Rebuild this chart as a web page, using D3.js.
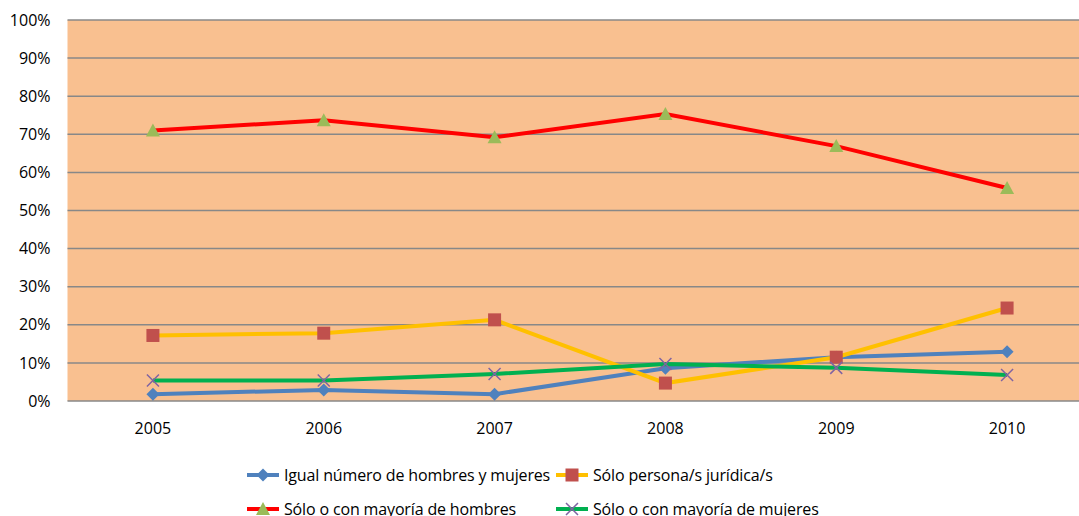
<!DOCTYPE html>
<meta charset="utf-8">
<script src="https://d3js.org/d3.v7.min.js"></script>
<style>
  body { margin: 0; background: #fff; }
  text { font-family: "Open Sans", Lato, sans-serif; fill: #000; }
</style>
<body>
<div id="chart"></div>
<script>

var years = ["2005", "2006", "2007", "2008", "2009", "2010"];
var yTicks = [0, 0.1, 0.2, 0.3, 0.4, 0.5, 0.6, 0.7, 0.8, 0.9, 1];

var igual = [0.018, 0.029, 0.018, 0.086, 0.115, 0.129];
var juridica = [0.172, 0.178, 0.213, 0.047, 0.115, 0.244];
var hombres = [0.710, 0.737, 0.692, 0.753, 0.669, 0.559];
var mujeres = [0.054, 0.054, 0.071, 0.097, 0.087, 0.068];

var seriesNames = [
  "Igual número de hombres y mujeres",
  "Sólo persona/s jurídica/s",
  "Sólo o con mayoría de hombres",
  "Sólo o con mayoría de mujeres"
];

var series = [
  { name: seriesNames[0], values: igual, line: "#4f81bd", marker: "diamond", mcolor: "#4f81bd" },
  { name: seriesNames[1], values: juridica, line: "#ffc000", marker: "square", mcolor: "#c0504d" },
  { name: seriesNames[2], values: hombres, line: "#ff0000", marker: "triangle", mcolor: "#9bbb59" },
  { name: seriesNames[3], values: mujeres, line: "#00b050", marker: "cross", mcolor: "#8064a2" }
];

var width = 1079, height = 516;
var plot = { left: 67.5, right: 1092.5, top: 20, bottom: 401 };

var svg = d3.select("#chart").append("svg")
  .attr("width", width)
  .attr("height", height);

var x = d3.scaleBand()
  .domain(years)
  .range([plot.left, plot.right]);

var y = d3.scaleLinear()
  .domain([0, 1])
  .range([plot.bottom, plot.top]);

// plot background
svg.append("rect")
  .attr("x", plot.left)
  .attr("y", plot.top)
  .attr("width", plot.right - plot.left)
  .attr("height", plot.bottom - plot.top)
  .attr("fill", "#f9c090");

// gridlines
svg.append("g")
  .selectAll("line")
  .data(yTicks)
  .enter()
  .append("line")
  .attr("x1", plot.left)
  .attr("x2", plot.right)
  .attr("y1", function(d) { return y(d); })
  .attr("y2", function(d) { return y(d); })
  .attr("stroke", "#888888")
  .attr("stroke-width", 1.5);

// y axis labels
var yAxis = svg.append("g")
  .attr("transform", "translate(" + plot.left + ",0)")
  .call(d3.axisLeft(y).tickValues(yTicks).tickFormat(d3.format(".0%")).tickSize(0).tickPadding(17));
yAxis.select(".domain").remove();
yAxis.selectAll("text").style("font-size", "16px").attr("fill", "#000");

// x axis labels
var xAxis = svg.append("g")
  .attr("transform", "translate(0," + plot.bottom + ")")
  .call(d3.axisBottom(x).tickSize(0).tickPadding(22));
xAxis.select(".domain").remove();
xAxis.selectAll("text").style("font-size", "16px").attr("fill", "#000");

var cx = function(i) { return x(years[i]) + x.bandwidth() / 2; };

var lineGen = d3.line()
  .x(function(d, i) { return cx(i); })
  .y(function(d) { return y(d); });

function drawMarker(g, type, color, px, py) {
  if (type === "diamond") {
    g.append("path")
      .attr("d", "M" + px + "," + (py - 6.5) + "L" + (px + 6.5) + "," + py + "L" + px + "," + (py + 6.5) + "L" + (px - 6.5) + "," + py + "Z")
      .attr("fill", color);
  } else if (type === "square") {
    g.append("rect")
      .attr("x", px - 6.5).attr("y", py - 6.5)
      .attr("width", 13).attr("height", 13)
      .attr("fill", color);
  } else if (type === "triangle") {
    g.append("path")
      .attr("d", "M" + px + "," + (py - 7) + "L" + (px + 7) + "," + (py + 6) + "L" + (px - 7) + "," + (py + 6) + "Z")
      .attr("fill", color);
  } else {
    g.append("path")
      .attr("d", "M" + (px - 6) + "," + (py - 6) + "L" + (px + 6) + "," + (py + 6) + "M" + (px + 6) + "," + (py - 6) + "L" + (px - 6) + "," + (py + 6))
      .attr("stroke", color)
      .attr("stroke-width", 1.5)
      .attr("fill", "none");
  }
}

series.forEach(function(s) {
  var g = svg.append("g");
  g.append("path")
    .datum(s.values)
    .attr("d", lineGen)
    .attr("fill", "none")
    .attr("stroke", s.line)
    .attr("stroke-width", 4);
  s.values.forEach(function(v, i) {
    drawMarker(g, s.marker, s.mcolor, cx(i), y(v));
  });
});

// legend: two rows of two
var legendPos = [[247, 475], [556, 475], [247, 509], [556, 509]];
series.forEach(function(s, i) {
  var lx = legendPos[i][0], ly = legendPos[i][1];
  var g = svg.append("g");
  g.append("line")
    .attr("x1", lx).attr("x2", lx + 32)
    .attr("y1", ly).attr("y2", ly)
    .attr("stroke", s.line)
    .attr("stroke-width", 4);
  drawMarker(g, s.marker, s.mcolor, lx + 16, ly);
  g.append("text")
    .attr("x", lx + 37)
    .attr("y", ly + 6)
    .style("font-size", "16px")
    .style("letter-spacing", "-0.15px")
    .text(s.name);
});

</script>
</body>
